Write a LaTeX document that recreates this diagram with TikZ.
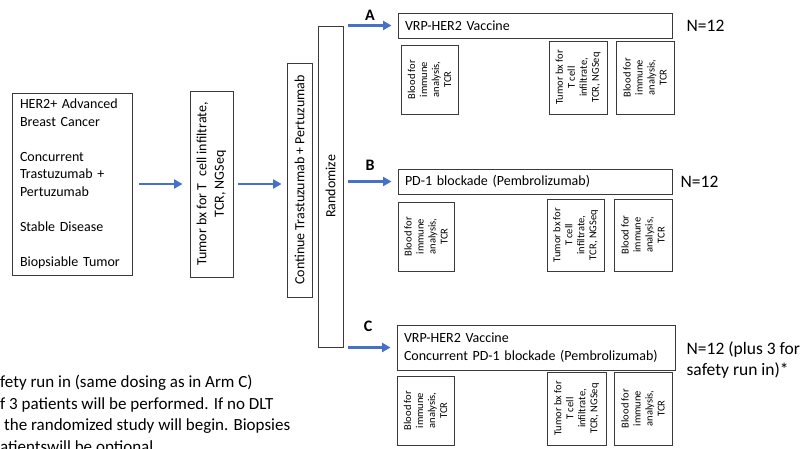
\documentclass[tikz,border=0pt]{standalone}
\usepackage{fontspec}
\setmainfont{Carlito}
\usetikzlibrary{positioning,arrows.meta}
\definecolor{flowblue}{HTML}{4472C4}
\definecolor{edge}{HTML}{3A3A3A}

\begin{document}
\begin{tikzpicture}[x=1pt, y=-1pt,
  box/.style={draw=edge, line width=0.9pt, inner sep=0pt, font=\fontsize{14}{17.5}\selectfont},
  vbox/.style={box, rotate=90, align=center},
  smp/.style={draw=edge, line width=0.9pt, rotate=90, align=center, inner sep=0pt, font=\fontsize{10.5}{12}\selectfont},
  arm/.style={box, align=left, inner xsep=7pt, minimum height=25pt},
  flow/.style={draw=flowblue, line width=2.5pt, -{Triangle[length=8.5pt,width=9pt]}},
  lbl/.style={font=\fontsize{16}{16}\selectfont\bfseries},
  nlab/.style={font=\fontsize{17.5}{21}\selectfont, align=left, inner sep=0pt}
]
  \useasboundingbox (0,0) rectangle (801,448);

  % Eligibility and run-in
  \node[box, text width=104pt, inner xsep=8pt, minimum height=182pt, align=left] (elig) at (72,184)
    {HER2+ Advanced\\Breast Cancer\\[17.5pt]Concurrent\\Trastuzumab +\\Pertuzumab\\[17.5pt]Stable Disease\\[17.5pt]Biopsiable Tumor};
  \node[vbox, minimum width=186pt, minimum height=43pt] (bx) at (211.5,184) {Tumor bx for T\ \ cell infiltrate,\\TCR, NGSeq};
  \node[vbox, minimum width=234pt, minimum height=25pt] (cont) at (299.5,180) {Continue Trastuzumab + Pertuzumab};
  \node[vbox, minimum width=321pt, minimum height=25pt] (rand) at (330.5,186.5) {Randomize};

  \draw[flow, shorten <=7pt, shorten >=7pt] (elig.east) -- (bx.north);
  \draw[flow, shorten <=5pt, shorten >=5pt] (bx.south) -- (bx.south -| cont.north);

  % Arms
  \node[arm, text width=260pt] (armA) at (535,25.5) {VRP-HER2 Vaccine};
  \node[arm, text width=260pt] (armB) at (535,181.5) {PD-1 blockade (Pembrolizumab)};
  \node[arm, text width=264pt, minimum height=45pt] (armC) at (536,347.5) {VRP-HER2 Vaccine\\Concurrent PD-1 blockade (Pembrolizumab)};

  \draw[flow, shorten <=5pt, shorten >=6pt] (armA.west -| rand.south) -- (armA.west);
  \draw[flow, shorten <=5pt, shorten >=6pt] (armB.west -| rand.south) -- (armB.west);
  \draw[flow, shorten <=5pt, shorten >=6pt] (armC.west -| rand.south) -- (armC.west);

  \node[lbl] (labA) at (370,15) {A};
  \node[lbl] (labB) at (370,165) {B};
  \node[lbl] (labC) at (368,326) {C};

  \node[nlab, right=14pt of armA] (nA) {N=12};
  \node[nlab, right=8pt of armB] (nB) {N=12};
  \node[nlab, right=11pt of armC, yshift=-13pt] (nC) {N=12 (plus 3 for\\safety run in)*};

  % Arm A samples
  \node[smp, minimum width=69pt, minimum height=57pt] (bldA1) at (429.5,79.5) {Blood for\\immune\\analysis,\\TCR};
  \node[smp, minimum width=73pt, minimum height=58pt] (tumA) at (578,77.5) {Tumor bx for\\T cell\\infiltrate,\\TCR, NGSeq};
  \node[smp, minimum width=73pt, minimum height=58pt] (bldA2) at (645,77.5) {Blood for\\immune\\analysis,\\TCR};
  % Arm B samples
  \node[smp, minimum width=69pt, minimum height=56pt] (bldB1) at (426,236.5) {Blood for\\immune\\analysis,\\TCR};
  \node[smp, minimum width=72pt, minimum height=57pt] (tumB) at (575.5,235) {Tumor bx for\\T cell\\infiltrate,\\TCR, NGSeq};
  \node[smp, minimum width=72pt, minimum height=58pt] (bldB2) at (643,235) {Blood for\\immune\\analysis,\\TCR};
  % Arm C samples
  \node[smp, minimum width=69pt, minimum height=57pt] (bldC1) at (425.5,410.5) {Blood for\\immune\\analysis,\\TCR};
  \node[smp, minimum width=73pt, minimum height=59pt] (tumC) at (576.5,408.5) {Tumor bx for\\T cell\\infiltrate,\\TCR, NGSeq};
  \node[smp, minimum width=73pt, minimum height=58pt] (bldC2) at (643,408.5) {Blood for\\immune\\analysis,\\TCR};

  % Footnote (cut at the page edge)
  \node[font=\fontsize{17}{21.5}\selectfont, align=left, anchor=north west, inner sep=0pt] (note) at (0,375)
    {fety run in (same dosing as in Arm C)\\f 3 patients will be performed. If no DLT\\\hspace*{4pt}the randomized study will begin. Biopsies\\atientswill be optional};
\end{tikzpicture}
\end{document}
